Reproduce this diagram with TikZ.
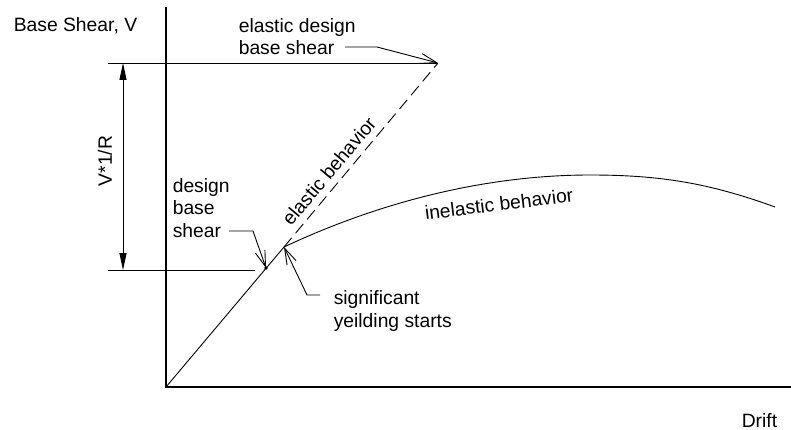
\documentclass[tikz,border=0pt]{standalone}
\usepackage{fontspec}
\setmainfont{Liberation Sans}
\usetikzlibrary{arrows.meta}

\begin{document}
\begin{tikzpicture}[x=1pt,y=-1pt,line width=0.9pt,font=\fontsize{19.3}{22.5}\selectfont]
\useasboundingbox (0,0) rectangle (791,430);
\coordinate (o) at (166,387);
\coordinate (t) at (166,7);
\coordinate (r) at (791,387);
\coordinate (d) at (266,268);
\coordinate (y) at (284,247);
\coordinate (e) at (438,63);
\coordinate (p) at (590,175);
\coordinate (f) at (775,207);
\coordinate (u) at (108,63);
\coordinate (l) at (108,270);
\coordinate (m) at (255,270);
\coordinate (du) at (123,63);
\coordinate (dl) at (123,270);
\coordinate (e1) at (345,47);
\coordinate (e2) at (377,47);
\coordinate (d1) at (229,231);
\coordinate (d2) at (253,231);
\coordinate (s1) at (320,295);
\coordinate (s2) at (307,295);
\draw [line width=1.3pt] (t) -- (o) -- (r);
\draw (u) -- (e);
\draw (l) -- (m);
\draw [{Triangle[length=17pt,width=7pt]}-{Triangle[length=17pt,width=7pt]}] (du) -- (dl);
\draw (o) -- (y);
\draw [dash pattern=on 12pt off 6pt] (y) -- (e);
\draw (y) .. controls (384,200) and (490,175) .. (p) .. controls (660,175) and (709,183) .. (f);
\fill (d) circle [radius=1.8pt];
\draw [-{Straight Barb[length=16pt,width=10pt]}] (e1) -- (e2) -- (e);
\draw [-{Straight Barb[length=16pt,width=10pt]}] (d1) -- (d2) -- (d);
\draw [-{Straight Barb[length=16pt,width=10pt]}] (s1) -- (s2) -- (y);
\node [anchor=base west] (bs) at (10,32) {Base Shear, V};
\node [anchor=base west] (dr) at (738,427) {Drift};
\node [anchor=base west,align=left] (ed) at (235,55) {elastic design\\base shear};
\node [anchor=base west,align=left] (db) at (169,237) {design\\base\\shear};
\node [anchor=base west,align=left] (sy) at (330,327) {significant\\yeilding starts};
\node [rotate=90] (vr) at (105,161) {V*1/R};
\node [rotate=50] (eb) at (329,171) {elastic behavior};
\node [rotate=7] (ib) at (499,204) {inelastic behavior};
\end{tikzpicture}
\end{document}
